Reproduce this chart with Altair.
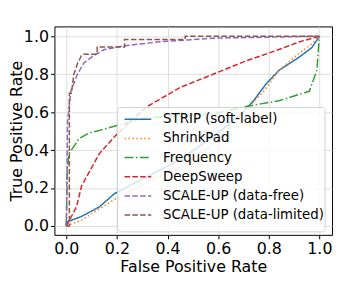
import altair as alt
import pandas as pd

names = ["STRIP (soft-label)", "ShrinkPad", "Frequency", "DeepSweep",
         "SCALE-UP (data-free)", "SCALE-UP (data-limited)"]
colors = ["#1f77b4", "#ff7f0e", "#2ca02c", "#d62728", "#9467bd", "#8c564b"]
dashes = [[1, 0], [1.5, 2.5], [9, 2.5, 1.5, 2.5], [5.5, 2.4], [5.5, 2.4], [5.5, 2.4]]

strip_x = [0, 0.0, 0.02, 0.06, 0.13, 0.19, 0.26, 0.32, 0.45, 0.58, 0.69, 0.74, 0.79, 0.84, 0.92, 0.97, 1.0]
strip_y = [0, 0.02, 0.03, 0.05, 0.10, 0.17, 0.22, 0.26, 0.35, 0.47, 0.59, 0.66, 0.75, 0.82, 0.89, 0.94, 1.0]

shrink_x = [0, 0.06, 0.19, 0.32, 0.45, 0.58, 0.71, 0.78, 0.84, 0.91, 0.97, 1.0]
shrink_y = [0, 0.03, 0.14, 0.23, 0.31, 0.43, 0.61, 0.71, 0.82, 0.90, 0.96, 1.0]

freq_x = [0, 0.004, 0.01, 0.05, 0.09, 0.15, 0.20, 0.32, 0.58, 0.71, 0.84, 0.96, 0.99, 1.0]
freq_y = [0, 0.30, 0.38, 0.46, 0.49, 0.51, 0.53, 0.57, 0.59, 0.63, 0.66, 0.71, 0.82, 1.0]

deep_x = [0, 0.04, 0.06, 0.13, 0.19, 0.26, 0.32, 0.45, 0.58, 0.71, 0.84, 0.92, 1.0]
deep_y = [0, 0.10, 0.21, 0.38, 0.47, 0.56, 0.63, 0.73, 0.80, 0.87, 0.93, 0.97, 1.0]

free_x = [0, 0.005, 0.018, 0.044, 0.07, 0.10, 0.15, 0.23, 0.36, 0.58, 1.0]
free_y = [0, 0.55, 0.71, 0.80, 0.86, 0.89, 0.93, 0.95, 0.97, 0.99, 1.0]

lim_x = [0, 0.012, 0.012, 0.02, 0.03, 0.035, 0.045, 0.05, 0.06, 0.07, 0.122, 0.122, 0.23, 0.23, 0.47, 0.47, 1.0]
lim_y = [0, 0.0, 0.70, 0.70, 0.80, 0.82, 0.86, 0.87, 0.90, 0.905, 0.905, 0.943, 0.943, 0.983, 0.983, 1.0, 1.0]

series = [(strip_x, strip_y), (shrink_x, shrink_y), (freq_x, freq_y),
          (deep_x, deep_y), (free_x, free_y), (lim_x, lim_y)]

rows = []
for name, (xs, ys) in zip(names, series):
    for i, (a, b) in enumerate(zip(xs, ys)):
        rows.append({"series": name, "x": a, "y": b, "i": i})
df = pd.DataFrame(rows)

ticks = [0.0, 0.2, 0.4, 0.6, 0.8, 1.0]
FONT = "DejaVu Sans"

lines = alt.Chart(df).mark_line(strokeWidth=1.5, clip=True).encode(
    x=alt.X("x:Q", title="False Positive Rate",
            scale=alt.Scale(domain=[-0.047, 1.05], nice=False, zero=False),
            axis=alt.Axis(values=ticks, format=".1f", titlePadding=2)),
    y=alt.Y("y:Q", title="True Positive Rate",
            scale=alt.Scale(domain=[-0.047, 1.052], nice=False, zero=False),
            axis=alt.Axis(values=ticks, format=".1f", titleX=-30, titleY=105.5,
                          titleAngle=270, titleBaseline="bottom", titleAlign="center")),
    color=alt.Color("series:N", scale=alt.Scale(domain=names, range=colors),
                    sort=names,
                    legend=alt.Legend(title=None, orient="none", legendX=70, legendY=85,
                                      symbolType="M-1,0H2.375", symbolSize=256,
                                      symbolStrokeWidth=1.5, symbolFillColor="transparent",
                                      labelFontSize=13.5, labelFont=FONT,
                                      labelColor="black", labelLimit=300,
                                      rowPadding=3.4, padding=0, labelOffset=22)),
    strokeDash=alt.StrokeDash("series:N", scale=alt.Scale(domain=names, range=dashes),
                              sort=names, legend=alt.Legend(title=None)),
    order=alt.Order("i:Q"),
)

legend_box = alt.Chart(pd.DataFrame({"a": [0]})).mark_rect(
    fill="white", fillOpacity=0.8, stroke="#d0d0d0", strokeWidth=1, cornerRadius=3
).encode(
    x=alt.value(64), x2=alt.value(274), y=alt.value(82), y2=alt.value(208)
)

chart = alt.layer(lines, legend_box).properties(
    width=281, height=211,
    autosize=alt.AutoSizeParams(type="none"),
    padding={"left": 47, "top": 17, "right": 2, "bottom": 40},
).configure_view(
    stroke="black", strokeWidth=1
).configure_axis(
    labelFont=FONT, titleFont=FONT, labelFontSize=16, titleFontSize=16,
    titleFontWeight="normal", labelColor="black", titleColor="black",
    grid=True, gridColor="#d5d5d5", gridWidth=0.8,
    domain=False, tickColor="black", tickSize=4, labelPadding=2,
)

chart.save("out.html", embed_options={"renderer": "svg", "actions": False})
